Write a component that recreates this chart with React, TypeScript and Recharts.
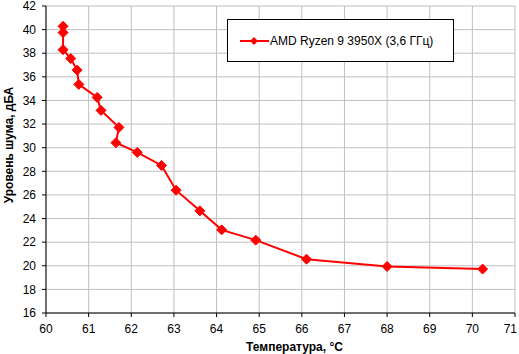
import React from 'react';
import { LineChart, Line, XAxis, YAxis, CartesianGrid, Legend, Label } from 'recharts';

const temperature = [60.4, 60.4, 60.4, 60.58, 60.73, 60.77, 61.2, 61.29, 61.71, 61.64, 62.14, 62.71, 63.05, 63.61, 64.12, 64.92, 66.11, 68.0, 70.24];
const noise = [40.28, 39.75, 38.3, 37.55, 36.57, 35.36, 34.26, 33.16, 31.72, 30.42, 29.6, 28.5, 26.4, 24.65, 23.04, 22.17, 20.56, 19.94, 19.72];
const xTicks = [60, 61, 62, 63, 64, 65, 66, 67, 68, 69, 70, 71];
const yTicks = [16, 18, 20, 22, 24, 26, 28, 30, 32, 34, 36, 38, 40, 42];
const seriesName = 'AMD Ryzen 9 3950X (3,6 ГГц)';

const data = temperature.map((t, i) => ({ t, v: noise[i] }));

const FONT = '"Liberation Sans", Arial, sans-serif';
const titleStyle = { fill: '#000', fontSize: 12, fontWeight: 'bold' as const, fontFamily: FONT };

// diamond marker like the old Excel charts
const Diamond = (props: any) => {
  const { cx, cy } = props;
  if (cx == null || cy == null) return null;
  const r = 5;
  return (
    <polygon
      points={`${cx},${cy - r} ${cx + r},${cy} ${cx},${cy + r} ${cx - r},${cy}`}
      fill="#ff0000"
      stroke="#ff0000"
    />
  );
};

// x tick labels; the last one is pulled in so it stays inside the picture
const XTick = ({ x, y, payload }: any) => {
  const tooFar = x + 8 > 518;
  return (
    <text
      x={tooFar ? 517 : x}
      y={y}
      dy={11}
      textAnchor={tooFar ? 'end' : 'middle'}
      fill="#000"
      fontSize={12}
      fontFamily={FONT}
    >
      {payload.value}
    </text>
  );
};

const LegendBox = () => (
  <div
    style={{
      width: 225,
      height: 41,
      border: '1px solid #000',
      background: '#fff',
      display: 'flex',
      alignItems: 'center',
      fontFamily: FONT,
      fontSize: 12,
      color: '#000',
    }}
  >
    <svg width={42} height={12} style={{ marginLeft: 10 }}>
      <line x1={2} y1={6} x2={31} y2={6} stroke="#ff0000" strokeWidth={2} />
      <polygon points="16,2 20,6 16,10 12,6" fill="#ff0000" />
    </svg>
    <span style={{ marginLeft: -10 }}>{seriesName}</span>
  </div>
);

// axis titles sit a bit off the plot centre in the original
const XTitle = ({ viewBox }: any) => (
  <text x={viewBox.x + viewBox.width / 2 + 14} y={351} textAnchor="middle" style={titleStyle}>
    Температура, °C
  </text>
);

const YTitle = () => (
  <text transform="translate(13,145) rotate(-90)" textAnchor="middle" style={titleStyle}>
    Уровень шума, дБА
  </text>
);

export default function App() {
  return (
    <div style={{ position: 'absolute', left: 0, top: 0, width: 519, height: 354, background: '#fff' }}>
      <LineChart
        width={519}
        height={354}
        data={data}
        margin={{ top: 6, right: 4, bottom: 0, left: 0 }}
      >
        <CartesianGrid stroke="#c0c0c0" strokeWidth={1} />
        <XAxis
          type="number"
          dataKey="t"
          domain={[60, 71]}
          ticks={xTicks}
          interval={0}
          height={41}
          tickSize={4}
          tickMargin={5}
          axisLine={{ stroke: '#000' }}
          tickLine={{ stroke: '#000' }}
          tick={<XTick />}
        >
          <Label content={<XTitle />} />
        </XAxis>
        <YAxis
          type="number"
          dataKey="v"
          domain={[16, 42]}
          ticks={yTicks}
          interval={0}
          width={46}
          tickSize={4}
          tickMargin={6}
          axisLine={{ stroke: '#000' }}
          tickLine={{ stroke: '#000' }}
          tick={{ fill: '#000', fontSize: 12, fontFamily: FONT }}
        >
          <Label content={<YTitle />} />
        </YAxis>
        <Legend
          layout="horizontal"
          verticalAlign="middle"
          align="center"
          content={<LegendBox />}
          wrapperStyle={{ top: 19, left: 227, width: 227, height: 43 }}
        />
        <Line
          type="linear"
          dataKey="v"
          name={seriesName}
          stroke="#ff0000"
          strokeWidth={2}
          dot={<Diamond />}
          activeDot={false}
          isAnimationActive={false}
        />
      </LineChart>
    </div>
  );
}
